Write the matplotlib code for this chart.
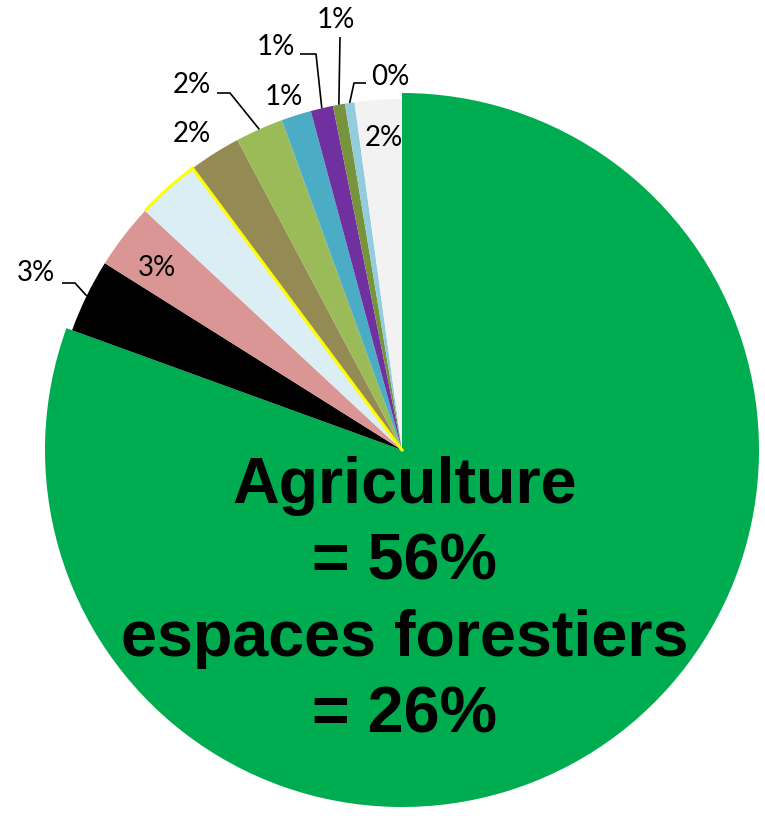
import numpy as np
import matplotlib.pyplot as plt
from matplotlib.patches import Arc

# land use shares, clockwise from the top
labels = ["Agriculture + forêts", "Artificialisé", "Routes", "Eau", "Friches",
          "Prairies", "Zones humides", "Carrières", "Vergers", "Landes", "Autres"]
values = [82.0, 3.45, 3.05, 2.95, 2.45, 2.25, 1.4, 1.05, 0.56, 0.45, 2.2]
colors = ["#00AC50", "#000000", "#D99694", "#DBEEF4", "#948A54", "#9BBB59",
          "#4BACC6", "#7030A0", "#77933C", "#93CDDD", "#F2F2F2"]
big_text = ["Agriculture", "= 56%", "espaces forestiers", "= 26%"]

W, H = 765, 816
CX, CY, R = 402, H - 450, 351

fig = plt.figure(figsize=(W / 100, H / 100), dpi=100)
ax = fig.add_axes([0, 0, 1, 1])
ax.set_xlim(0, W)
ax.set_ylim(0, H)
ax.set_aspect("equal")
ax.axis("off")

wedges, _ = ax.pie(values, colors=colors, startangle=90, counterclock=False,
                   center=(CX, CY), radius=R, wedgeprops=dict(linewidth=0))
ax.set_xlim(0, W)
ax.set_ylim(0, H)

# the main slice reaches a little further out
wedges[0].set_radius(R + 6)

# yellow outline on the "Eau" slice (outer arc + upper side)
w = wedges[3]
ax.add_patch(Arc((CX, CY), 2 * R, 2 * R, theta1=w.theta1, theta2=w.theta2,
                 color="#FFFF00", lw=2.2, zorder=3))
a = np.deg2rad(w.theta1)
ax.plot([CX, CX + R * np.cos(a)], [CY, CY + R * np.sin(a)], color="#FFFF00", lw=2.2, zorder=3)

total = sum(values)
pct = [f"{round(v / total * 100)}%" for v in values]

# label placement in image pixels: (index, text x, text y)
label_pos = [(1, 36, 273), (2, 157, 268), (4, 192, 134), (5, 192, 85), (6, 284, 97),
             (7, 276, 47), (8, 336, 20), (9, 390, 77), (10, 384, 138)]
# leader lines: (index, start near text, knee)
leaders = [(1, (62, 283), (75, 283)), (5, (217, 93), (230, 93)), (7, (300, 54), (316, 54)),
           (8, (340, 37), (340, 37)), (9, (366, 83), (354, 83))]

for i, x, y in label_pos:
    ax.text(x, H - y, pct[i], ha="center", va="center", fontsize=20,
            family="Lato", color="black", zorder=5)

for i, start, knee in leaders:
    w = wedges[i]
    mid = np.deg2rad((w.theta1 + w.theta2) / 2)
    ex, ey = CX + R * np.cos(mid), CY + R * np.sin(mid)
    ax.plot([start[0], knee[0], ex], [H - start[1], H - knee[1], ey],
            color="black", lw=1.2, zorder=4, solid_capstyle="butt")

for k, line in enumerate(big_text):
    ax.text(405, H - (503 + 76.5 * k), line, ha="center", va="baseline",
            fontsize=46.5, fontweight="bold", family="Liberation Sans", color="black", zorder=6)

fig.savefig("out.png", dpi=100)
